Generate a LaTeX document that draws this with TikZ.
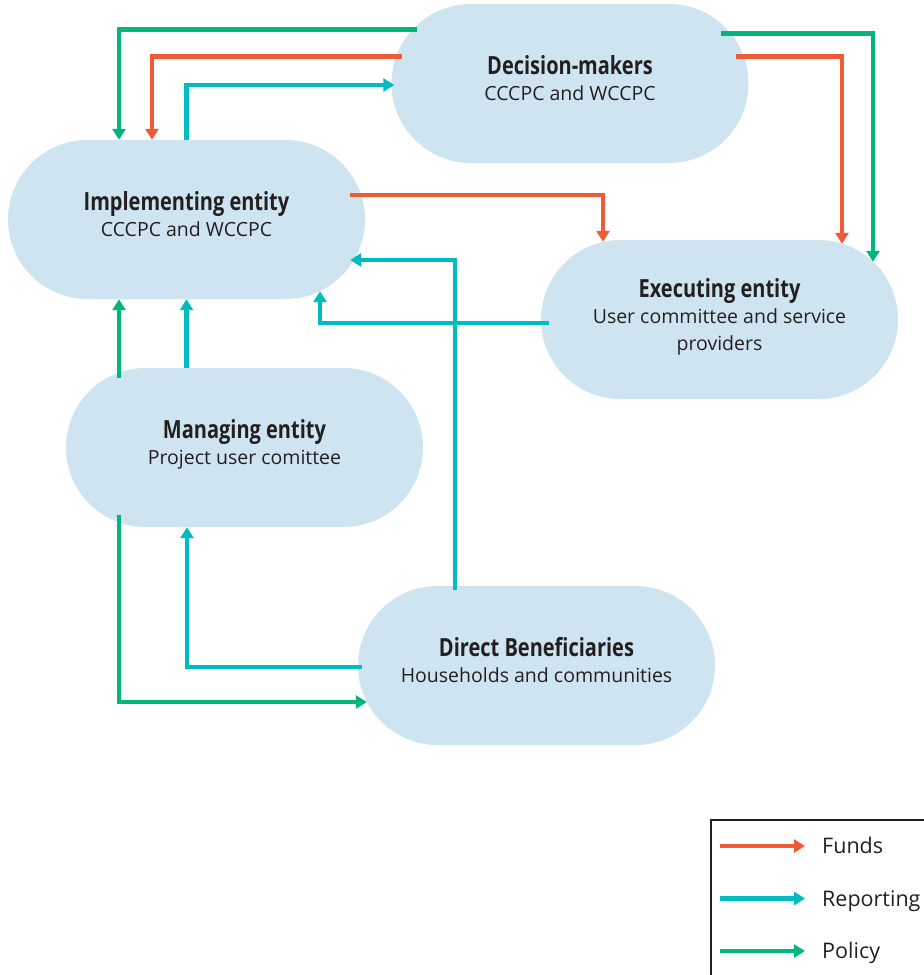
\documentclass[tikz,border=0pt]{standalone}
\usepackage{fontspec}
\setmainfont{Open Sans}
\newfontfamily\headfont[FakeStretch=0.8]{Open Sans}
\usetikzlibrary{arrows.meta}
\definecolor{boxblue}{HTML}{CFE4F1}
\definecolor{fundred}{HTML}{F05A35}
\definecolor{reportcyan}{HTML}{00BCC0}
\definecolor{policygreen}{HTML}{00B67A}
\definecolor{inkgray}{HTML}{231F20}
\begin{document}
\begin{tikzpicture}[x=1pt,y=-1pt,>={Triangle[length=11pt,width=13pt]},
    entity/.style={fill=boxblue,rounded corners=79.5pt,minimum width=357pt,minimum height=159pt,
      align=center,text=inkgray,text depth=11pt,font=\fontsize{19.5}{26.5}\selectfont},
    fund/.style={->,line width=4.2pt,fundred},
    report/.style={->,line width=4.2pt,reportcyan},
    policy/.style={->,line width=4.2pt,policygreen},
    legtext/.style={anchor=base west,inner sep=0pt,text=inkgray,font=\fontsize{21.5}{24}\selectfont}]
  \def\hd#1{{\headfont\bfseries\fontsize{25}{26.5}\selectfont #1}}
  \useasboundingbox (0,0) rectangle (924,975);
  \node[entity] (dec) at (570,83.5) {\hd{Decision-makers}\\CCCPC and WCCPC};
  \node[entity] (impl) at (186.5,219.5) {\hd{Implementing entity}\\CCCPC and WCCPC};
  \node[entity] (exec) at (719.5,319.5) {\hd{Executing entity}\\User committee and service\\providers};
  \node[entity] (manag) at (244.5,447.5) {\hd{Managing entity}\\Project user comittee};
  \node[entity] (benef) at (536.5,665.5) {\hd{Direct Beneficiaries}\\Households and communities};

  \draw[policy] ([xshift=26pt,yshift=54pt]dec.west) -| ([xshift=-67.5pt]impl.north);
  \draw[fund] ([xshift=11pt,yshift=27pt]dec.west) -| ([xshift=-34.5pt]impl.north);
  \draw[report] (impl.north) |- ([xshift=3pt,yshift=-1.5pt]dec.west);
  \draw[policy] ([xshift=-28pt,yshift=50pt]dec.east) -| ([xshift=153.5pt,yshift=-22pt]exec.north);
  \draw[fund] ([xshift=-13pt,yshift=27pt]dec.east) -| ([xshift=122.5pt,yshift=-4pt]exec.north);
  \draw[fund] ([xshift=-15pt,yshift=24.5pt]impl.east) -| ([xshift=-116.5pt,yshift=-2pt]exec.north);
  \draw[report] ([xshift=8pt,yshift=-3.5pt]exec.west) -| ([xshift=133.5pt,yshift=8pt]impl.south);
  \draw[report] ([xshift=-81.5pt,yshift=-4pt]benef.north) |- ([xshift=-15pt,yshift=-40.5pt]impl.east);
  \draw[policy] ([xshift=-125.5pt,yshift=-10pt]manag.north) -- ([xshift=-67.5pt]impl.south);
  \draw[report] (impl.south |- manag.north) -- (impl.south);
  \draw[report] ([xshift=4pt,yshift=-1.5pt]benef.west) -| ([xshift=-57.5pt]manag.south);
  \draw[policy] ([xshift=-125.5pt,yshift=12pt]manag.south) |- ([xshift=9pt,yshift=-36.5pt]benef.west);

  \draw[line width=1.8pt,inkgray] (711,975) |- (924,820);
  \node[legtext] (funds) at (822,853.5) {Funds};
  \node[legtext] (reporting) at (822,906) {Reporting};
  \node[legtext] (policy) at (822,958.5) {Policy};
  \draw[fund] ([xshift=-102pt,yshift=7.5pt]funds.base west) -- ([xshift=-17pt,yshift=7.5pt]funds.base west);
  \draw[report] ([xshift=-102pt,yshift=7.5pt]reporting.base west) -- ([xshift=-17pt,yshift=7.5pt]reporting.base west);
  \draw[policy] ([xshift=-102pt,yshift=7.5pt]policy.base west) -- ([xshift=-17pt,yshift=7.5pt]policy.base west);
\end{tikzpicture}
\end{document}
